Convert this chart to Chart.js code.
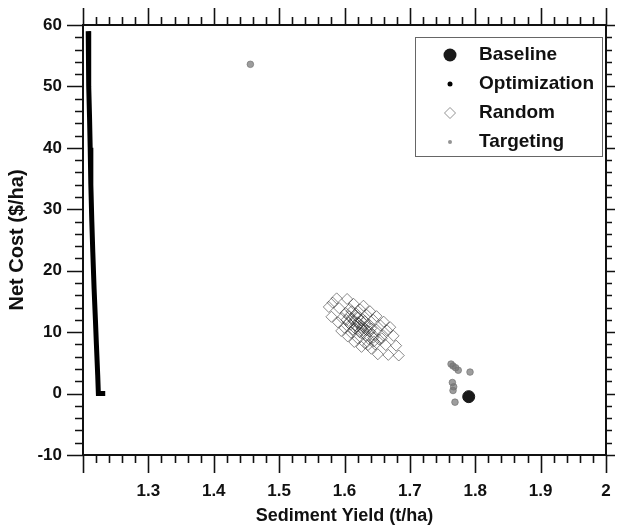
<!DOCTYPE html>
<html>
<head>
<meta charset="utf-8">
<script src="https://cdn.jsdelivr.net/npm/chart.js@4/dist/chart.umd.min.js"></script>
<style>
  body { margin: 0; background: #fff; }
  #wrap { width: 617px; height: 527px; }
</style>
</head>
<body>
<div id="wrap"><canvas id="myChart"></canvas></div>
<script>
// 読み取った値
const baselineX = [1.790];
const baselineY = [-0.5];

const optX = [1.208, 1.2085, 1.209, 1.210, 1.211, 1.212, 1.2135, 1.215, 1.217, 1.219, 1.2205, 1.2225, 1.2235, 1.228, 1.234];
const optY = [59, 56, 50, 45, 40, 34, 28, 23, 17, 12, 8, 3, 0, 0, 0];

const randomX = [1.582, 1.576, 1.588, 1.580, 1.592, 1.604, 1.590, 1.596, 1.602, 1.608, 1.614,
  1.600, 1.606, 1.612, 1.618, 1.624, 1.610, 1.616, 1.622, 1.628, 1.634,
  1.620, 1.626, 1.632, 1.638, 1.644, 1.631, 1.637, 1.643, 1.649, 1.655,
  1.641, 1.647, 1.653, 1.659, 1.665, 1.651, 1.663, 1.675, 1.667, 1.679, 1.683,
  1.607, 1.614, 1.619, 1.625, 1.629, 1.635, 1.611, 1.621, 1.603, 1.617, 1.627, 1.633, 1.639, 1.613, 1.623,
  1.629, 1.595, 1.649, 1.615, 1.639, 1.605, 1.660, 1.626, 1.670, 1.636, 1.657, 1.645,
  1.609, 1.620, 1.631, 1.641, 1.616, 1.626, 1.634, 1.644];
const randomY = [14.8, 14.1, 15.5, 12.5, 13.9, 15.4, 11.6, 12.3, 13.1, 13.8, 14.6,
  10.7, 11.5, 12.2, 13.0, 13.7, 9.9, 10.6, 11.4, 12.1, 12.8,
  9.0, 9.8, 10.5, 11.2, 12.0, 8.2, 8.9, 9.6, 10.4, 11.1,
  7.3, 8.0, 8.8, 9.5, 10.3, 6.4, 7.9, 9.4, 6.3, 7.8, 6.2,
  12.6, 11.8, 10.9, 11.9, 10.2, 10.9, 13.4, 12.4, 12.0, 12.7, 11.0, 9.4, 10.1, 10.4, 10.0,
  14.3, 10.2, 12.6, 8.4, 13.4, 9.3, 11.7, 7.6, 10.8, 7.9, 9.0, 8.5,
  11.2, 11.6, 11.8, 10.6, 11.1, 10.7, 10.3, 9.1];

const targetX = [1.456, 1.763, 1.766, 1.770, 1.774, 1.792, 1.765, 1.767, 1.766, 1.769];
const targetY = [53.6, 4.8, 4.5, 4.2, 3.8, 3.5, 1.8, 1.1, 0.5, -1.4];

const xMin = 1.2, xMax = 2.0, xMajor = 0.1, xMinor = 0.02;
const yMin = -10, yMax = 60, yMajor = 10, yMinor = 2;

const toPts = (xs, ys) => xs.map((x, i) => ({ x: x, y: ys[i] }));
const FONT = "'Liberation Sans', Arial, sans-serif";

// 目盛りと枠を描く
const frameTicks = {
    id: 'frameTicks',
    afterDraw(chart) {
        const ctx = chart.ctx;
        const a = chart.chartArea;
        const xs = chart.scales.x, ys = chart.scales.y;
        ctx.save();
        ctx.strokeStyle = '#111';
        ctx.lineWidth = 2;
        ctx.strokeRect(a.left, a.top, a.right - a.left, a.bottom - a.top);
        ctx.lineWidth = 1.6;
        ctx.beginPath();
        const nx = Math.round((xMax - xMin) / xMinor);
        for (let i = 0; i <= nx; i++) {
            const px = Math.round(xs.getPixelForValue(xMin + i * xMinor)) + 0.5;
            const major = i % 5 === 0;
            ctx.moveTo(px, a.bottom); ctx.lineTo(px, a.bottom + (major ? 18 : 8));
            ctx.moveTo(px, a.top); ctx.lineTo(px, a.top - (major ? 17 : 8));
        }
        const ny = Math.round((yMax - yMin) / yMinor);
        for (let i = 0; i <= ny; i++) {
            const py = Math.round(ys.getPixelForValue(yMin + i * yMinor)) + 0.5;
            const major = i % 5 === 0;
            ctx.moveTo(a.left, py); ctx.lineTo(a.left - (major ? 16 : 8), py);
            ctx.moveTo(a.right, py); ctx.lineTo(a.right + (major ? 9 : 6), py);
        }
        ctx.stroke();
        ctx.restore();
    }
};

// 枠付きの凡例
const boxLegend = {
    id: 'boxLegend',
    afterDraw(chart) {
        const ctx = chart.ctx;
        const a = chart.chartArea;
        const w = 187, h = 119;
        const left = a.right - 4 - w, top = a.top + 12;
        ctx.save();
        ctx.fillStyle = '#fff';
        ctx.fillRect(left, top, w, h);
        ctx.strokeStyle = '#666';
        ctx.lineWidth = 1;
        ctx.strokeRect(left + 0.5, top + 0.5, w, h);
        ctx.font = 'bold 19px ' + FONT;
        ctx.textBaseline = 'middle';
        chart.data.datasets.forEach((ds, i) => {
            const cy = top + 18 + i * 29;
            const cx = left + 35;
            const r = ds.legendRadius;
            ctx.beginPath();
            if (ds.pointStyle === 'rectRot') {
                ctx.moveTo(cx, cy - r); ctx.lineTo(cx + r, cy); ctx.lineTo(cx, cy + r); ctx.lineTo(cx - r, cy); ctx.closePath();
                ctx.strokeStyle = 'rgba(120,120,120,0.8)';
                ctx.lineWidth = 1;
                ctx.stroke();
            } else {
                ctx.arc(cx, cy, r, 0, Math.PI * 2);
                ctx.fillStyle = ds.legendColor;
                ctx.fill();
            }
            ctx.fillStyle = '#111';
            ctx.fillText(ds.label, left + 64, cy);
        });
        ctx.restore();
    }
};

const ctx = document.getElementById('myChart').getContext('2d');
const myChart = new Chart(ctx, {
    type: 'scatter',
    data: {
        datasets: [
        {
            label: 'Baseline',
            data: toPts(baselineX, baselineY),
            pointStyle: 'circle',
            pointRadius: 6,
            backgroundColor: '#1a1a1a',
            borderColor: '#1a1a1a',
            legendRadius: 6.5,
            legendColor: '#1a1a1a',
            order: 0
        },
        {
            label: 'Optimization',
            data: toPts(optX, optY),
            showLine: true,
            borderColor: '#000',
            borderWidth: 5,
            pointRadius: 0,
            legendRadius: 2.5,
            legendColor: '#000',
            order: 1
        },
        {
            label: 'Random',
            data: toPts(randomX, randomY),
            pointStyle: 'rectRot',
            pointRadius: 5.5,
            backgroundColor: 'rgba(0,0,0,0)',
            borderColor: 'rgba(40,40,40,0.55)',
            borderWidth: 1,
            legendRadius: 5.5,
            order: 2
        },
        {
            label: 'Targeting',
            data: toPts(targetX, targetY),
            pointStyle: 'circle',
            pointRadius: 3.3,
            backgroundColor: 'rgba(115,115,115,0.7)',
            borderColor: 'rgba(115,115,115,0.7)',
            legendRadius: 2,
            legendColor: 'rgba(120,120,120,0.8)',
            order: 3
        }
        ]
    },
    options: {
        responsive: true,
        maintainAspectRatio: false,
        animation: false,
        layout: { padding: { top: 25, right: 11, left: 0, bottom: 0 } },
        plugins: {
            legend: { display: false },
            tooltip: { enabled: false }
        },
        scales: {
            x: {
                type: 'linear',
                min: xMin,
                max: xMax,
                grid: { display: false, drawTicks: false },
                border: { display: false },
                afterFit: s => { s.height = 72; s.paddingRight = 0; s.paddingLeft = 0; },
                ticks: {
                    stepSize: xMajor,
                    padding: 26,
                    color: '#111',
                    font: { family: FONT, size: 17, weight: 'bold' },
                    callback: v => (Math.abs(v - xMin) < 1e-9 ? '' : String(Number(v.toFixed(1))))
                },
                title: {
                    display: true,
                    text: 'Sediment Yield (t/ha)',
                    color: '#111',
                    font: { family: FONT, size: 18, weight: 'bold' },
                    padding: { top: 0, bottom: 0 }
                }
            },
            y: {
                min: yMin,
                max: yMax,
                grid: { display: false, drawTicks: false },
                border: { display: false },
                afterFit: s => { s.width = 83; s.paddingTop = 0; s.paddingBottom = 0; },
                ticks: {
                    stepSize: yMajor,
                    padding: 21,
                    color: '#111',
                    font: { family: FONT, size: 17, weight: 'bold' }
                },
                title: {
                    display: true,
                    text: 'Net Cost ($/ha)',
                    color: '#111',
                    font: { family: FONT, size: 20, weight: 'bold' },
                    padding: { top: 5, bottom: 0 }
                }
            }
        }
    },
    plugins: [frameTicks, boxLegend]
});
</script>
</body>
</html>
